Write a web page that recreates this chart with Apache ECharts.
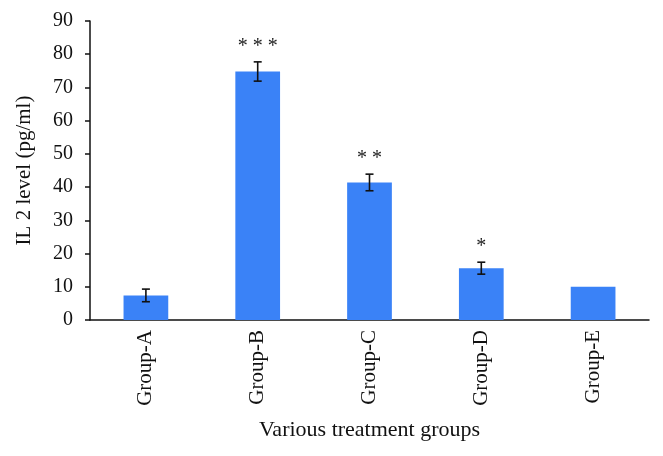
<!DOCTYPE html>
<html>
<head>
<meta charset="utf-8">
<script src="https://cdn.jsdelivr.net/npm/echarts@6/dist/echarts.min.js"></script>
<style>html,body{margin:0;padding:0;background:#fff;}#c{width:663px;height:456px;}</style>
</head>
<body>
<div id="c"></div>
<script>
const categories = ['Group-A', 'Group-B', 'Group-C', 'Group-D', 'Group-E'];
const values = [7.4, 74.8, 41.4, 15.6, 10.0];
const errors = [1.9, 2.9, 2.5, 1.8, 0];
const stars = ['', '***', '**', '*', ''];
const yTicks = { min: 0, max: 90, interval: 10 };

const FONT = '"Liberation Serif", "DejaVu Serif", serif';
const chart = echarts.init(document.getElementById('c'));
const errData = categories.map((c, i) => [i, values[i], errors[i], stars[i]]);

chart.setOption({
  animation: false,
  grid: { left: 90, right: 14, top: 21, bottom: 136 },
  xAxis: {
    type: 'category',
    data: categories,
    name: 'Various treatment groups',
    nameLocation: 'middle',
    nameGap: 99,
    nameTextStyle: { fontFamily: FONT, fontSize: 22, color: '#111' },
    axisLine: { lineStyle: { color: '#111', width: 1.5 } },
    axisTick: { show: false },
    axisLabel: { rotate: 90, fontFamily: FONT, fontSize: 21, color: '#111', margin: 10 }
  },
  yAxis: {
    type: 'value',
    min: yTicks.min, max: yTicks.max, interval: yTicks.interval,
    name: 'IL 2 level (pg/ml)',
    nameLocation: 'middle',
    nameGap: 55,
    nameTextStyle: { fontFamily: FONT, fontSize: 21, color: '#111' },
    axisLine: { show: true, lineStyle: { color: '#111', width: 1.5 } },
    axisTick: { show: true, length: 5, lineStyle: { color: '#111', width: 1.5 } },
    axisLabel: { fontFamily: FONT, fontSize: 20, color: '#111', margin: 17 },
    splitLine: { show: false }
  },
  series: [
    {
      type: 'bar',
      data: values,
      barWidth: '40%',
      itemStyle: { color: '#3a82f7' }
    },
    {
      type: 'custom',
      data: errData,
      z: 10,
      renderItem: function (params, api) {
        const i = api.value(0), v = api.value(1), e = api.value(2);
        const s = stars[params.dataIndex];
        const top = api.coord([i, v + e]);
        const bot = api.coord([i, v - e]);
        const children = [];
        const st = { stroke: '#111', lineWidth: 1.6 };
        if (e > 0) {
          children.push({ type: 'line', shape: { x1: top[0], y1: top[1], x2: bot[0], y2: bot[1] }, style: st });
          children.push({ type: 'line', shape: { x1: top[0] - 4, y1: top[1], x2: top[0] + 4, y2: top[1] }, style: st });
          children.push({ type: 'line', shape: { x1: bot[0] - 4, y1: bot[1], x2: bot[0] + 4, y2: bot[1] }, style: st });
        }
        if (s) {
          children.push({
            type: 'text',
            style: {
              text: s.split('').join(' '),
              x: top[0], y: top[1] - 5,
              align: 'center', verticalAlign: 'bottom',
              font: '20px ' + FONT,
              fill: '#222'
            }
          });
        }
        return { type: 'group', children: children };
      }
    }
  ]
});
</script>
</body>
</html>
